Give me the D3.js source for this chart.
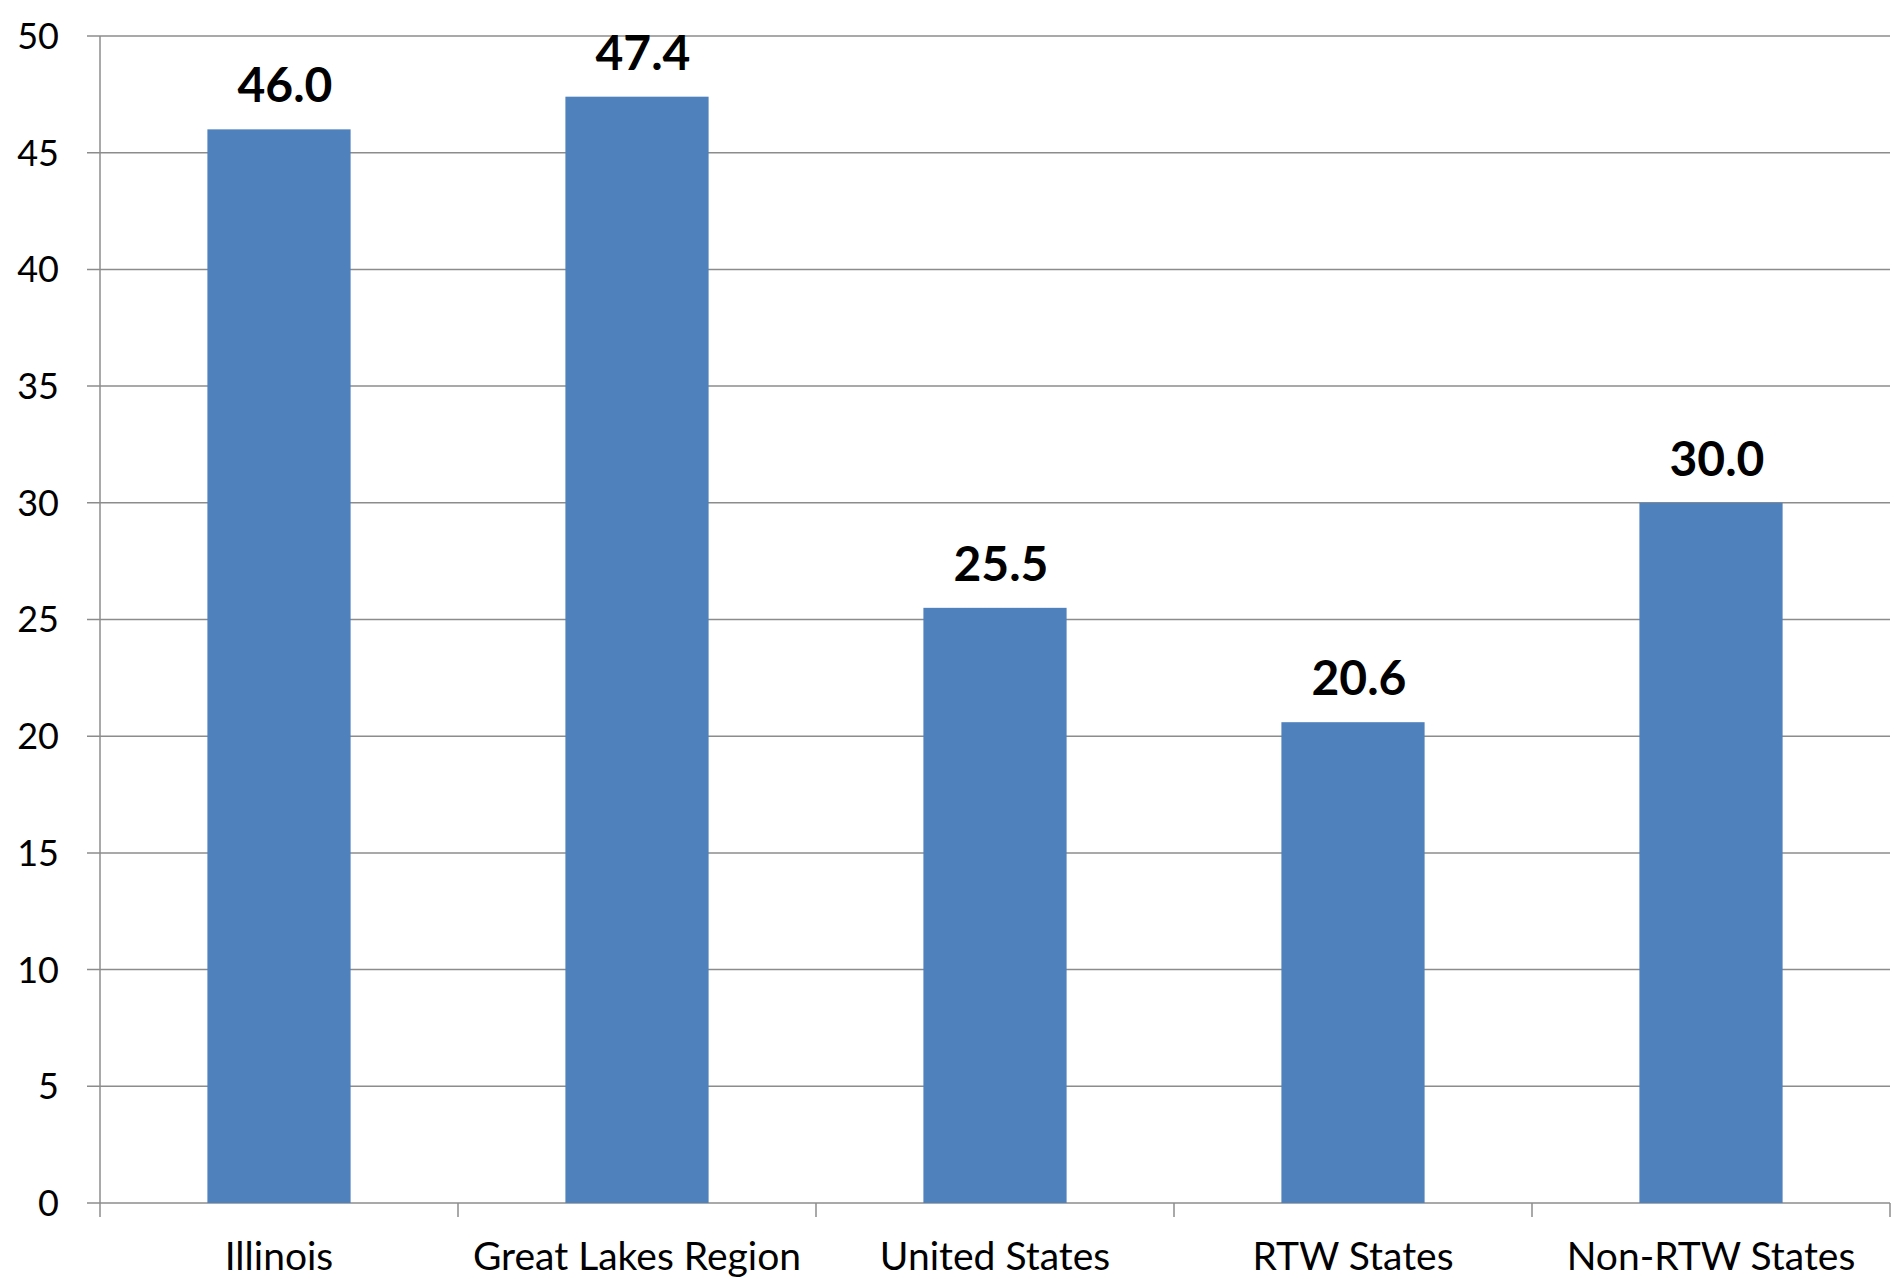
<!DOCTYPE html>
<html>
<head>
<meta charset="utf-8">
<script src="https://cdnjs.cloudflare.com/ajax/libs/d3/7.8.5/d3.min.js"></script>
<style>
  body { margin: 0; background: #fff; }
  text { font-family: Lato, "Open Sans", sans-serif; }
</style>
</head>
<body>
<svg id="canvas"></svg>
<script>
let categories = ["Illinois", "Great Lakes Region", "United States", "RTW States", "Non-RTW States"]
let values = [46.0, 47.4, 25.5, 20.6, 30.0]
let yTicks = [0, 5, 10, 15, 20, 25, 30, 35, 40, 45, 50]

let width = 1895
let height = 1279
let margin = { top: 36, right: 5, bottom: 76, left: 100 }

let canvas = d3.select("#canvas")
canvas.attr("width", width).attr("height", height)

let gridColor = "#8c8c8c"

let xScale = d3.scaleBand()
               .domain(categories)
               .range([margin.left, width - margin.right])
               .padding(0)

let yScale = d3.scaleLinear()
               .domain([0, 50])
               .range([height - margin.bottom, margin.top])

// horizontal gridlines with little ticks left of the axis
canvas.append("g")
      .selectAll("line")
      .data(yTicks)
      .enter().append("line")
      .attr("x1", margin.left - 13)
      .attr("x2", width - margin.right)
      .attr("y1", d => yScale(d))
      .attr("y2", d => yScale(d))
      .attr("stroke", gridColor)
      .attr("stroke-width", 1.5)

// y axis labels
canvas.append("g")
      .selectAll("text")
      .data(yTicks)
      .enter().append("text")
      .attr("x", margin.left - 41)
      .attr("y", d => yScale(d))
      .attr("dy", "0.36em")
      .attr("text-anchor", "end")
      .attr("font-size", "36px")
      .attr("fill", "#000")
      .text(d => d)

// bars
let barFrac = 0.4
canvas.append("g")
      .selectAll("rect")
      .data(values)
      .enter().append("rect")
      .attr("x", (d, i) => xScale(categories[i]) + xScale.bandwidth() * (1 - barFrac) / 2)
      .attr("width", xScale.bandwidth() * barFrac)
      .attr("y", d => yScale(d))
      .attr("height", d => yScale(0) - yScale(d))
      .attr("fill", "#4f81bd")

// value labels (sit a little right of the bar centre, like the original)
canvas.append("g")
      .selectAll("text")
      .data(values)
      .enter().append("text")
      .attr("x", (d, i) => xScale(categories[i]) + xScale.bandwidth() / 2 + 6)
      .attr("y", d => yScale(d) - 27)
      .attr("text-anchor", "middle")
      .attr("font-size", "48px")
      .attr("font-weight", "bold")
      .attr("fill", "#000")
      .text(d => d.toFixed(1))

// y axis line
canvas.append("line")
      .attr("x1", margin.left).attr("x2", margin.left)
      .attr("y1", margin.top).attr("y2", yScale(0) + 14)
      .attr("stroke", gridColor)
      .attr("stroke-width", 1.5)

// x axis ticks between categories
let boundaries = categories.map(c => xScale(c)).concat([width - margin.right])
canvas.append("g")
      .selectAll("line")
      .data(boundaries.slice(1))
      .enter().append("line")
      .attr("x1", d => d).attr("x2", d => d)
      .attr("y1", yScale(0)).attr("y2", yScale(0) + 14)
      .attr("stroke", gridColor)
      .attr("stroke-width", 1.5)

// category labels
canvas.append("g")
      .selectAll("text")
      .data(categories)
      .enter().append("text")
      .attr("x", d => xScale(d) + xScale.bandwidth() / 2)
      .attr("y", 1270)
      .attr("text-anchor", "middle")
      .attr("font-size", "39px")
      .attr("fill", "#000")
      .text(d => d)
</script>
</body>
</html>
